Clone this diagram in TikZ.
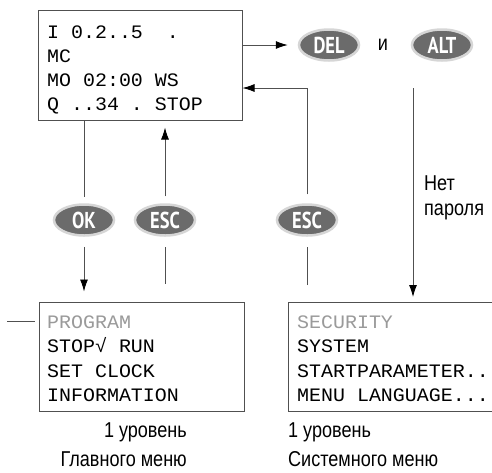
\documentclass[tikz,border=0pt]{standalone}
\usepackage{fontspec}
\setmainfont{Liberation Sans}
\newfontfamily\labfont[FakeStretch=0.84]{Liberation Sans}
\newfontfamily\lcdfont[FakeStretch=1.05]{Liberation Mono}
\newfontfamily\keyfont[FakeStretch=0.8]{PT Sans}
\usetikzlibrary{arrows.meta,shapes.geometric}
\definecolor{keygray}{HTML}{6B6B6B}
\definecolor{ringgray}{HTML}{D6D6D6}
\definecolor{linegray}{HTML}{505050}
\definecolor{dimtext}{HTML}{9A9A9A}
\tikzset{
  lcdbox/.style={draw=linegray, line width=1pt, inner sep=0pt},
  key/.style={ellipse, fill=keygray, draw=ringgray, line width=2.5pt,
    minimum width=60pt, minimum height=31pt, inner sep=0pt, text=white,
    font=\keyfont\bfseries\fontsize{23}{23}\selectfont},
  lcd/.style={anchor=base west, inner sep=0pt, font=\lcdfont\fontsize{19}{19}\selectfont},
  lab/.style={inner sep=0pt, font=\labfont\fontsize{21.5}{21.5}\selectfont},
  ln/.style={draw=linegray, line width=0.9pt},
  arr/.style={ln, -{Latex[length=12pt,width=8pt,black]}}
}
\begin{document}
\begin{tikzpicture}[x=1pt,y=-1pt]
\useasboundingbox[fill=white] (0,0) rectangle (492,472);
% boxes
\node[lcdbox, minimum width=204pt, minimum height=110pt] (top) at (140,65) {};
\node[lcdbox, minimum width=205pt, minimum height=109pt] (menu) at (141.5,356.5) {};
\node[inner sep=0pt, minimum width=212pt, minimum height=109pt, anchor=north west] (sys) at (288,302) {};
\draw[draw=linegray, line width=1pt] (sys.north east) -- (sys.north west) -- (sys.south west) -- (sys.south east);
% LCD texts
\node[lcd] (t1) at (47,38.5) {I~0.2..5~~.};
\node[lcd] (t2) at (47,62) {MC};
\node[lcd] (t3) at (47,86) {MO~02:00~WS};
\node[lcd] (t4) at (47,110) {Q~..34~.~STOP};
\node[lcd, text=dimtext] (m1) at (47,328) {PROGRAM};
\node[lcd] (m2) at (47,352.5) {STOP√~RUN};
\node[lcd] (m3) at (47,377) {SET~CLOCK};
\node[lcd] (m4) at (47,401.5) {INFORMATION};
\node[lcd, text=dimtext] (s1) at (297,328) {SECURITY};
\node[lcd] (s2) at (297,352.5) {SYSTEM};
\node[lcd] (s3) at (297,377) {STARTPARAMETER..};
\node[lcd] (s4) at (297,401.5) {MENU~LANGUAGE...};
% keys
\node[key] (del) at (329,45) {DEL};
\node[key] (alt) at (442,45) {ALT};
\node[key] (ok) at (84,220) {OK};
\node[key] (esc1) at (165,220) {ESC};
\node[key] (esc2) at (307,220) {ESC};
\node[lab, anchor=base] (and) at (383,50) {и};
% labels
\node[lab, anchor=base west] (net) at (424,190) {Нет};
\node[lab, anchor=base west] (par) at (424,215) {пароля};
\node[lab, anchor=base east] (l1) at (187,437) {1 уровень};
\node[lab, anchor=base east] (l2) at (187,466) {Главного меню};
\node[lab, anchor=base west] (r1) at (288,437) {1 уровень};
\node[lab, anchor=base west] (r2) at (288,466) {Системного меню};
% connectors
\draw[arr, shorten >=10pt] (top.east |- del.center) -- (del.west);
\draw[ln, shorten >=6pt] (top.south -| ok.center) -- (ok.north);
\draw[arr, shorten <=10pt, shorten >=10pt] (ok.south) -- (menu.north -| ok.center);
\draw[ln, shorten <=18pt, shorten >=10pt] (menu.north -| esc1.center) -- (esc1.south);
\draw[arr, shorten <=7pt, shorten >=7pt] (esc1.north) -- (top.south -| esc1.center);
\draw[ln, shorten <=17pt, shorten >=10pt] (sys.north -| esc2.center) -- (esc2.south);
\coordinate (ret) at (307,88);
\draw[arr] ([yshift=9pt]esc2.north) -- (ret) -- (top.east |- ret);
\coordinate (np) at (413,88);
\draw[arr, shorten >=5pt] (np) -- (sys.north -| np);
\coordinate (lft) at (7,321);
\draw[ln, shorten >=4pt] (lft) -- (lft -| menu.west);
\end{tikzpicture}
\end{document}
